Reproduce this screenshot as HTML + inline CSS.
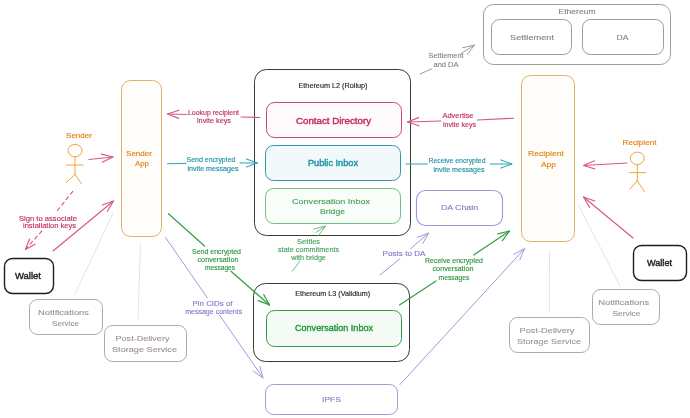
<!DOCTYPE html>
<html><head><meta charset="utf-8"><style>
html,body{margin:0;padding:0;background:#fff;}
svg{display:block;font-family:"Liberation Sans", sans-serif;will-change:transform;}
</style></head><body>
<svg width="690" height="418" viewBox="0 0 690 418">
<rect width="690" height="418" fill="#ffffff"/>
<g>
<line x1="113" y1="213" x2="75" y2="294" stroke="#e4e4e4" stroke-width="1" stroke-linecap="round"/>
<line x1="140.5" y1="243" x2="138" y2="319" stroke="#e4e4e4" stroke-width="1" stroke-linecap="round"/>
<line x1="578.5" y1="205" x2="620" y2="286" stroke="#e4e4e4" stroke-width="1" stroke-linecap="round"/>
<line x1="549.5" y1="251" x2="549.4" y2="313" stroke="#e4e4e4" stroke-width="1" stroke-linecap="round"/>
<rect x="121.5" y="80.5" width="40.0" height="156.0" rx="9" fill="#fffdf9" stroke="#e3b06a" stroke-width="1"/>
<rect x="521.5" y="75.5" width="53.0" height="166.0" rx="9" fill="#fffdf9" stroke="#e3b06a" stroke-width="1"/>
<rect x="254.5" y="69.5" width="156.0" height="166.0" rx="12" fill="none" stroke="#3a3a3a" stroke-width="1"/>
<rect x="266.5" y="102.5" width="135.0" height="35.0" rx="8" fill="#fffafc" stroke="#c8457a" stroke-width="1"/>
<rect x="265.5" y="145.5" width="135.0" height="35.0" rx="8" fill="#f1f9fa" stroke="#3596a6" stroke-width="1"/>
<rect x="265.5" y="188.5" width="135.0" height="35.0" rx="8" fill="#f9fdf9" stroke="#6cbf7e" stroke-width="1"/>
<rect x="416.5" y="190.5" width="86.0" height="35.0" rx="9" fill="none" stroke="#a294dc" stroke-width="1.1"/>
<rect x="253.5" y="283.5" width="156.0" height="78.0" rx="12" fill="none" stroke="#3a3a3a" stroke-width="1"/>
<rect x="266.5" y="310.5" width="135.0" height="36.0" rx="8" fill="#f3fbf4" stroke="#2f9e44" stroke-width="1"/>
<rect x="265.5" y="384.5" width="132.0" height="30.0" rx="8" fill="none" stroke="#a397dc" stroke-width="1"/>
<rect x="483.5" y="4.5" width="187.0" height="60.0" rx="10" fill="none" stroke="#a09c9c" stroke-width="1"/>
<rect x="491.5" y="19.5" width="80.0" height="35.0" rx="8" fill="none" stroke="#a09c9c" stroke-width="1"/>
<rect x="582.5" y="19.5" width="81.0" height="35.0" rx="8" fill="none" stroke="#a09c9c" stroke-width="1"/>
<rect x="4.5" y="258.5" width="49.0" height="35.0" rx="8" fill="none" stroke="#1e1e1e" stroke-width="1.4"/>
<rect x="633.5" y="245.5" width="53.0" height="35.0" rx="8" fill="none" stroke="#1e1e1e" stroke-width="1.4"/>
<rect x="29.5" y="299.5" width="73.0" height="35.0" rx="8" fill="none" stroke="#b0aaaa" stroke-width="1"/>
<rect x="104.5" y="325.5" width="82.0" height="36.0" rx="8" fill="none" stroke="#b0aaaa" stroke-width="1"/>
<rect x="592.5" y="289.5" width="67.0" height="35.0" rx="8" fill="none" stroke="#b0aaaa" stroke-width="1"/>
<rect x="509.5" y="317.5" width="80.0" height="35.0" rx="8" fill="none" stroke="#b0aaaa" stroke-width="1"/>
<ellipse cx="75" cy="150.6" rx="7.0" ry="6.2" fill="none" stroke="#eea53c" stroke-width="1"/>
<line x1="75" y1="156.79999999999998" x2="75" y2="174.4" stroke="#eea53c" stroke-width="1" stroke-linecap="round"/>
<line x1="66.2" y1="165" x2="83" y2="165" stroke="#eea53c" stroke-width="1" stroke-linecap="round"/>
<line x1="75" y1="174.4" x2="66.2" y2="182.5" stroke="#eea53c" stroke-width="1" stroke-linecap="round"/>
<line x1="75" y1="174.4" x2="81.7" y2="184" stroke="#eea53c" stroke-width="1" stroke-linecap="round"/>
<ellipse cx="637.3" cy="158.3" rx="7.0" ry="6.2" fill="none" stroke="#eea53c" stroke-width="1"/>
<line x1="637.3" y1="164.5" x2="637.3" y2="180.8" stroke="#eea53c" stroke-width="1" stroke-linecap="round"/>
<line x1="629.3" y1="172.6" x2="645.7" y2="172.6" stroke="#eea53c" stroke-width="1" stroke-linecap="round"/>
<line x1="637.3" y1="180.8" x2="629.8" y2="189.3" stroke="#eea53c" stroke-width="1" stroke-linecap="round"/>
<line x1="637.3" y1="180.8" x2="644.5" y2="191.7" stroke="#eea53c" stroke-width="1" stroke-linecap="round"/>
<line x1="89" y1="159.5" x2="113" y2="157" stroke="#d9558e" stroke-width="1.15" stroke-linecap="round"/>
<path d="M101.4,154.1 L113,157 L102.2,162.3" fill="none" stroke="#d9558e" stroke-width="1.15" stroke-linecap="round" stroke-linejoin="round"/>
<line x1="72.8" y1="191.4" x2="57" y2="211" stroke="#d9558e" stroke-width="1.15" stroke-linecap="round" stroke-dasharray="3.5 3.5"/>
<line x1="41.8" y1="231" x2="25.4" y2="249.4" stroke="#d9558e" stroke-width="1.15" stroke-linecap="round" stroke-dasharray="3.5 3.5"/>
<path d="M35.1,244.2 L25.4,249.4 L29.5,239.2" fill="none" stroke="#d9558e" stroke-width="1.15" stroke-linecap="round" stroke-linejoin="round"/>
<line x1="53" y1="251" x2="113.5" y2="201" stroke="#d9558e" stroke-width="1.15" stroke-linecap="round"/>
<path d="M102.2,205.0 L113.5,201 L107.4,211.3" fill="none" stroke="#d9558e" stroke-width="1.15" stroke-linecap="round" stroke-linejoin="round"/>
<line x1="260" y1="117.5" x2="241" y2="117" stroke="#d9558e" stroke-width="1.15" stroke-linecap="round"/>
<line x1="187" y1="114.5" x2="167.5" y2="114" stroke="#d9558e" stroke-width="1.15" stroke-linecap="round"/>
<path d="M178.7,118.4 L167.5,114 L178.9,110.2" fill="none" stroke="#d9558e" stroke-width="1.15" stroke-linecap="round" stroke-linejoin="round"/>
<line x1="167.5" y1="163.7" x2="186" y2="163.5" stroke="#2aa3b5" stroke-width="1" stroke-linecap="round"/>
<line x1="240" y1="163" x2="257.5" y2="163" stroke="#2aa3b5" stroke-width="1" stroke-linecap="round"/>
<path d="M246.2,158.9 L257.5,163 L246.2,167.1" fill="none" stroke="#2aa3b5" stroke-width="1" stroke-linecap="round" stroke-linejoin="round"/>
<line x1="513.7" y1="118.2" x2="477.5" y2="120" stroke="#d9558e" stroke-width="1.15" stroke-linecap="round"/>
<line x1="441" y1="121" x2="407.5" y2="122" stroke="#d9558e" stroke-width="1.15" stroke-linecap="round"/>
<path d="M418.9,125.8 L407.5,122 L418.6,117.6" fill="none" stroke="#d9558e" stroke-width="1.15" stroke-linecap="round" stroke-linejoin="round"/>
<line x1="406" y1="164" x2="427.5" y2="164" stroke="#2aa3b5" stroke-width="1" stroke-linecap="round"/>
<line x1="490" y1="164" x2="512" y2="164" stroke="#2aa3b5" stroke-width="1" stroke-linecap="round"/>
<path d="M500.7,159.9 L512,164 L500.7,168.1" fill="none" stroke="#2aa3b5" stroke-width="1" stroke-linecap="round" stroke-linejoin="round"/>
<line x1="627" y1="163" x2="583.5" y2="165.5" stroke="#d9558e" stroke-width="1.15" stroke-linecap="round"/>
<path d="M595.0,169.0 L583.5,165.5 L594.5,160.8" fill="none" stroke="#d9558e" stroke-width="1.15" stroke-linecap="round" stroke-linejoin="round"/>
<line x1="633" y1="238" x2="583.5" y2="197" stroke="#d9558e" stroke-width="1.15" stroke-linecap="round"/>
<path d="M589.6,207.4 L583.5,197 L594.8,201.0" fill="none" stroke="#d9558e" stroke-width="1.15" stroke-linecap="round" stroke-linejoin="round"/>
<line x1="420" y1="74" x2="432" y2="68.7" stroke="#a09c9c" stroke-width="1" stroke-linecap="round"/>
<line x1="461" y1="53.7" x2="474.5" y2="45" stroke="#a09c9c" stroke-width="1" stroke-linecap="round"/>
<path d="M462.8,47.7 L474.5,45 L467.2,54.6" fill="none" stroke="#a09c9c" stroke-width="1" stroke-linecap="round" stroke-linejoin="round"/>
<line x1="168.5" y1="213.7" x2="204.5" y2="246" stroke="#2f9e44" stroke-width="1.2" stroke-linecap="round"/>
<line x1="231" y1="271.2" x2="269.5" y2="305" stroke="#2f9e44" stroke-width="1.2" stroke-linecap="round"/>
<path d="M263.7,294.5 L269.5,305 L258.3,300.6" fill="none" stroke="#2f9e44" stroke-width="1.2" stroke-linecap="round" stroke-linejoin="round"/>
<line x1="292.5" y1="271" x2="300" y2="261" stroke="#6cbf7e" stroke-width="1" stroke-linecap="round"/>
<line x1="316" y1="232.5" x2="325.5" y2="226" stroke="#6cbf7e" stroke-width="1" stroke-linecap="round"/>
<path d="M313.9,229.0 L325.5,226 L318.5,235.8" fill="none" stroke="#6cbf7e" stroke-width="1" stroke-linecap="round" stroke-linejoin="round"/>
<line x1="165.5" y1="237.5" x2="207.5" y2="298" stroke="#a397dc" stroke-width="1" stroke-linecap="round"/>
<line x1="219.5" y1="315" x2="263" y2="378" stroke="#a397dc" stroke-width="1" stroke-linecap="round"/>
<path d="M260.0,366.4 L263,378 L253.2,371.1" fill="none" stroke="#a397dc" stroke-width="1" stroke-linecap="round" stroke-linejoin="round"/>
<line x1="380" y1="275" x2="400" y2="258.7" stroke="#a397dc" stroke-width="1" stroke-linecap="round"/>
<line x1="410.5" y1="248.7" x2="428.7" y2="233" stroke="#a397dc" stroke-width="1" stroke-linecap="round"/>
<path d="M417.5,237.3 L428.7,233 L422.8,243.5" fill="none" stroke="#a397dc" stroke-width="1" stroke-linecap="round" stroke-linejoin="round"/>
<line x1="399.5" y1="305" x2="436" y2="281" stroke="#2f9e44" stroke-width="1.2" stroke-linecap="round"/>
<line x1="473.7" y1="255" x2="509.5" y2="231" stroke="#2f9e44" stroke-width="1.2" stroke-linecap="round"/>
<path d="M497.8,233.9 L509.5,231 L502.4,240.7" fill="none" stroke="#2f9e44" stroke-width="1.2" stroke-linecap="round" stroke-linejoin="round"/>
<line x1="400" y1="384.5" x2="524.5" y2="248.7" stroke="#a397dc" stroke-width="1" stroke-linecap="round"/>
<path d="M513.9,254.2 L524.5,248.7 L519.9,259.8" fill="none" stroke="#a397dc" stroke-width="1" stroke-linecap="round" stroke-linejoin="round"/>
<text x="79" y="135" fill="#e27c06" stroke="#e27c06" stroke-width="0.12" font-size="8" font-weight="normal" text-anchor="middle" dominant-baseline="central" textLength="26" lengthAdjust="spacingAndGlyphs">Sender</text>
<text x="139" y="153" fill="#e27c06" stroke="#e27c06" stroke-width="0.12" font-size="8" font-weight="normal" text-anchor="middle" dominant-baseline="central" textLength="26" lengthAdjust="spacingAndGlyphs">Sender</text>
<text x="142" y="163.3" fill="#e27c06" stroke="#e27c06" stroke-width="0.12" font-size="8" font-weight="normal" text-anchor="middle" dominant-baseline="central" textLength="14" lengthAdjust="spacingAndGlyphs">App</text>
<text x="213.5" y="112" fill="#bf2a62" stroke="#bf2a62" stroke-width="0.12" font-size="6.5" font-weight="normal" text-anchor="middle" dominant-baseline="central" textLength="51" lengthAdjust="spacingAndGlyphs">Lookup recipient</text>
<text x="214" y="120.5" fill="#bf2a62" stroke="#bf2a62" stroke-width="0.12" font-size="6.5" font-weight="normal" text-anchor="middle" dominant-baseline="central" textLength="34" lengthAdjust="spacingAndGlyphs">invite keys</text>
<text x="211" y="159.5" fill="#1890a3" stroke="#1890a3" stroke-width="0.12" font-size="6.5" font-weight="normal" text-anchor="middle" dominant-baseline="central" textLength="49" lengthAdjust="spacingAndGlyphs">Send encrypted</text>
<text x="213" y="168" fill="#1890a3" stroke="#1890a3" stroke-width="0.12" font-size="6.5" font-weight="normal" text-anchor="middle" dominant-baseline="central" textLength="51" lengthAdjust="spacingAndGlyphs">invite messages</text>
<text x="333" y="85" fill="#1e1e1e" stroke="#1e1e1e" stroke-width="0.12" font-size="6.5" font-weight="normal" text-anchor="middle" dominant-baseline="central" textLength="69" lengthAdjust="spacingAndGlyphs">Ethereum L2 (Rollup)</text>
<text x="333.5" y="120.7" fill="#bf2a62" stroke="#bf2a62" stroke-width="0.38" font-size="9" font-weight="normal" text-anchor="middle" dominant-baseline="central" textLength="75" lengthAdjust="spacingAndGlyphs">Contact Directory</text>
<text x="333" y="163" fill="#1890a3" stroke="#1890a3" stroke-width="0.38" font-size="9" font-weight="normal" text-anchor="middle" dominant-baseline="central" textLength="50" lengthAdjust="spacingAndGlyphs">Public Inbox</text>
<text x="331" y="201" fill="#3f9f58" stroke="#3f9f58" stroke-width="0.12" font-size="8" font-weight="normal" text-anchor="middle" dominant-baseline="central" textLength="78" lengthAdjust="spacingAndGlyphs">Conversation Inbox</text>
<text x="332.5" y="211.7" fill="#3f9f58" stroke="#3f9f58" stroke-width="0.12" font-size="8" font-weight="normal" text-anchor="middle" dominant-baseline="central" textLength="25" lengthAdjust="spacingAndGlyphs">Bridge</text>
<text x="458" y="115.5" fill="#bf2a62" stroke="#bf2a62" stroke-width="0.12" font-size="6.5" font-weight="normal" text-anchor="middle" dominant-baseline="central" textLength="31" lengthAdjust="spacingAndGlyphs">Advertise</text>
<text x="459.5" y="124" fill="#bf2a62" stroke="#bf2a62" stroke-width="0.12" font-size="6.5" font-weight="normal" text-anchor="middle" dominant-baseline="central" textLength="33" lengthAdjust="spacingAndGlyphs">invite keys</text>
<text x="457" y="160" fill="#1890a3" stroke="#1890a3" stroke-width="0.12" font-size="6.5" font-weight="normal" text-anchor="middle" dominant-baseline="central" textLength="57" lengthAdjust="spacingAndGlyphs">Receive encrypted</text>
<text x="459" y="169" fill="#1890a3" stroke="#1890a3" stroke-width="0.12" font-size="6.5" font-weight="normal" text-anchor="middle" dominant-baseline="central" textLength="51" lengthAdjust="spacingAndGlyphs">invite messages</text>
<text x="546" y="153.7" fill="#e27c06" stroke="#e27c06" stroke-width="0.12" font-size="8" font-weight="normal" text-anchor="middle" dominant-baseline="central" textLength="36" lengthAdjust="spacingAndGlyphs">Recipient</text>
<text x="548.5" y="164" fill="#e27c06" stroke="#e27c06" stroke-width="0.12" font-size="8" font-weight="normal" text-anchor="middle" dominant-baseline="central" textLength="15" lengthAdjust="spacingAndGlyphs">App</text>
<text x="639.5" y="142.5" fill="#e27c06" stroke="#e27c06" stroke-width="0.12" font-size="8" font-weight="normal" text-anchor="middle" dominant-baseline="central" textLength="34" lengthAdjust="spacingAndGlyphs">Recipient</text>
<text x="446" y="55.5" fill="#8a7f7f" stroke="#8a7f7f" stroke-width="0.12" font-size="6.5" font-weight="normal" text-anchor="middle" dominant-baseline="central" textLength="35" lengthAdjust="spacingAndGlyphs">Settlement</text>
<text x="446" y="64.5" fill="#8a7f7f" stroke="#8a7f7f" stroke-width="0.12" font-size="6.5" font-weight="normal" text-anchor="middle" dominant-baseline="central" textLength="25" lengthAdjust="spacingAndGlyphs">and DA</text>
<text x="577" y="11.5" fill="#8a7f7f" stroke="#8a7f7f" stroke-width="0.12" font-size="6.5" font-weight="normal" text-anchor="middle" dominant-baseline="central" textLength="37" lengthAdjust="spacingAndGlyphs">Ethereum</text>
<text x="532" y="37.5" fill="#8a7f7f" stroke="#8a7f7f" stroke-width="0.12" font-size="8" font-weight="normal" text-anchor="middle" dominant-baseline="central" textLength="44" lengthAdjust="spacingAndGlyphs">Settlement</text>
<text x="622.5" y="37.5" fill="#8a7f7f" stroke="#8a7f7f" stroke-width="0.12" font-size="8" font-weight="normal" text-anchor="middle" dominant-baseline="central" textLength="12" lengthAdjust="spacingAndGlyphs">DA</text>
<text x="459.5" y="207.5" fill="#8577cc" stroke="#8577cc" stroke-width="0.12" font-size="8" font-weight="normal" text-anchor="middle" dominant-baseline="central" textLength="37" lengthAdjust="spacingAndGlyphs">DA Chain</text>
<text x="48" y="218" fill="#bf2a62" stroke="#bf2a62" stroke-width="0.12" font-size="6.5" font-weight="normal" text-anchor="middle" dominant-baseline="central" textLength="58" lengthAdjust="spacingAndGlyphs">Sign to associate</text>
<text x="49.5" y="225.7" fill="#bf2a62" stroke="#bf2a62" stroke-width="0.12" font-size="6.5" font-weight="normal" text-anchor="middle" dominant-baseline="central" textLength="53" lengthAdjust="spacingAndGlyphs">installation keys</text>
<text x="28" y="276" fill="#1e1e1e" stroke="#1e1e1e" stroke-width="0.38" font-size="8.5" font-weight="normal" text-anchor="middle" dominant-baseline="central" textLength="26" lengthAdjust="spacingAndGlyphs">Wallet</text>
<text x="63.5" y="312" fill="#9c9292" stroke="#9c9292" stroke-width="0.1" font-size="7.5" font-weight="normal" text-anchor="middle" dominant-baseline="central" textLength="51" lengthAdjust="spacingAndGlyphs">Notifications</text>
<text x="65.5" y="323" fill="#9c9292" stroke="#9c9292" stroke-width="0.1" font-size="7.5" font-weight="normal" text-anchor="middle" dominant-baseline="central" textLength="27" lengthAdjust="spacingAndGlyphs">Service</text>
<text x="142.5" y="338.5" fill="#9c9292" stroke="#9c9292" stroke-width="0.1" font-size="8" font-weight="normal" text-anchor="middle" dominant-baseline="central" textLength="54" lengthAdjust="spacingAndGlyphs">Post-Delivery</text>
<text x="144.5" y="349" fill="#9c9292" stroke="#9c9292" stroke-width="0.1" font-size="8" font-weight="normal" text-anchor="middle" dominant-baseline="central" textLength="65" lengthAdjust="spacingAndGlyphs">Storage Service</text>
<text x="216.5" y="251" fill="#23953c" stroke="#23953c" stroke-width="0.12" font-size="6.5" font-weight="normal" text-anchor="middle" dominant-baseline="central" textLength="49" lengthAdjust="spacingAndGlyphs">Send encrypted</text>
<text x="218" y="259.5" fill="#23953c" stroke="#23953c" stroke-width="0.12" font-size="6.5" font-weight="normal" text-anchor="middle" dominant-baseline="central" textLength="41" lengthAdjust="spacingAndGlyphs">conversation</text>
<text x="220" y="267.5" fill="#23953c" stroke="#23953c" stroke-width="0.12" font-size="6.5" font-weight="normal" text-anchor="middle" dominant-baseline="central" textLength="30" lengthAdjust="spacingAndGlyphs">messages</text>
<text x="308.6" y="241" fill="#3f9f58" stroke="#3f9f58" stroke-width="0.12" font-size="6.5" font-weight="normal" text-anchor="middle" dominant-baseline="central" textLength="23" lengthAdjust="spacingAndGlyphs">Settles</text>
<text x="308.6" y="249.1" fill="#3f9f58" stroke="#3f9f58" stroke-width="0.12" font-size="6.5" font-weight="normal" text-anchor="middle" dominant-baseline="central" textLength="61" lengthAdjust="spacingAndGlyphs">state commitments</text>
<text x="308.6" y="257.2" fill="#3f9f58" stroke="#3f9f58" stroke-width="0.12" font-size="6.5" font-weight="normal" text-anchor="middle" dominant-baseline="central" textLength="34.5" lengthAdjust="spacingAndGlyphs">with bridge</text>
<text x="212.5" y="303" fill="#8577cc" stroke="#8577cc" stroke-width="0.12" font-size="6.5" font-weight="normal" text-anchor="middle" dominant-baseline="central" textLength="40" lengthAdjust="spacingAndGlyphs">Pin CIDs of</text>
<text x="213.7" y="311.7" fill="#8577cc" stroke="#8577cc" stroke-width="0.12" font-size="6.5" font-weight="normal" text-anchor="middle" dominant-baseline="central" textLength="57" lengthAdjust="spacingAndGlyphs">message contents</text>
<text x="332.7" y="293.7" fill="#1e1e1e" stroke="#1e1e1e" stroke-width="0.12" font-size="6.5" font-weight="normal" text-anchor="middle" dominant-baseline="central" textLength="75" lengthAdjust="spacingAndGlyphs">Ethereum L3 (Validium)</text>
<text x="334" y="328" fill="#23953c" stroke="#23953c" stroke-width="0.38" font-size="9" font-weight="normal" text-anchor="middle" dominant-baseline="central" textLength="78" lengthAdjust="spacingAndGlyphs">Conversation Inbox</text>
<text x="404" y="253.7" fill="#8577cc" stroke="#8577cc" stroke-width="0.12" font-size="6.5" font-weight="normal" text-anchor="middle" dominant-baseline="central" textLength="43" lengthAdjust="spacingAndGlyphs">Posts to DA</text>
<text x="454" y="260.5" fill="#23953c" stroke="#23953c" stroke-width="0.12" font-size="6.5" font-weight="normal" text-anchor="middle" dominant-baseline="central" textLength="58" lengthAdjust="spacingAndGlyphs">Receive encrypted</text>
<text x="453" y="268.7" fill="#23953c" stroke="#23953c" stroke-width="0.12" font-size="6.5" font-weight="normal" text-anchor="middle" dominant-baseline="central" textLength="41" lengthAdjust="spacingAndGlyphs">conversation</text>
<text x="454" y="277" fill="#23953c" stroke="#23953c" stroke-width="0.12" font-size="6.5" font-weight="normal" text-anchor="middle" dominant-baseline="central" textLength="31" lengthAdjust="spacingAndGlyphs">messages</text>
<text x="331.5" y="399.5" fill="#8577cc" stroke="#8577cc" stroke-width="0.12" font-size="8" font-weight="normal" text-anchor="middle" dominant-baseline="central" textLength="19" lengthAdjust="spacingAndGlyphs">IPFS</text>
<text x="659.5" y="262.5" fill="#1e1e1e" stroke="#1e1e1e" stroke-width="0.38" font-size="8.5" font-weight="normal" text-anchor="middle" dominant-baseline="central" textLength="25" lengthAdjust="spacingAndGlyphs">Wallet</text>
<text x="623.7" y="302.6" fill="#9c9292" stroke="#9c9292" stroke-width="0.1" font-size="7.5" font-weight="normal" text-anchor="middle" dominant-baseline="central" textLength="51" lengthAdjust="spacingAndGlyphs">Notifications</text>
<text x="626.4" y="313.3" fill="#9c9292" stroke="#9c9292" stroke-width="0.1" font-size="7.5" font-weight="normal" text-anchor="middle" dominant-baseline="central" textLength="28" lengthAdjust="spacingAndGlyphs">Service</text>
<text x="547" y="330.6" fill="#9c9292" stroke="#9c9292" stroke-width="0.1" font-size="8" font-weight="normal" text-anchor="middle" dominant-baseline="central" textLength="55" lengthAdjust="spacingAndGlyphs">Post-Delivery</text>
<text x="549" y="341.3" fill="#9c9292" stroke="#9c9292" stroke-width="0.1" font-size="8" font-weight="normal" text-anchor="middle" dominant-baseline="central" textLength="64" lengthAdjust="spacingAndGlyphs">Storage Service</text>
</g>
</svg></body></html>
